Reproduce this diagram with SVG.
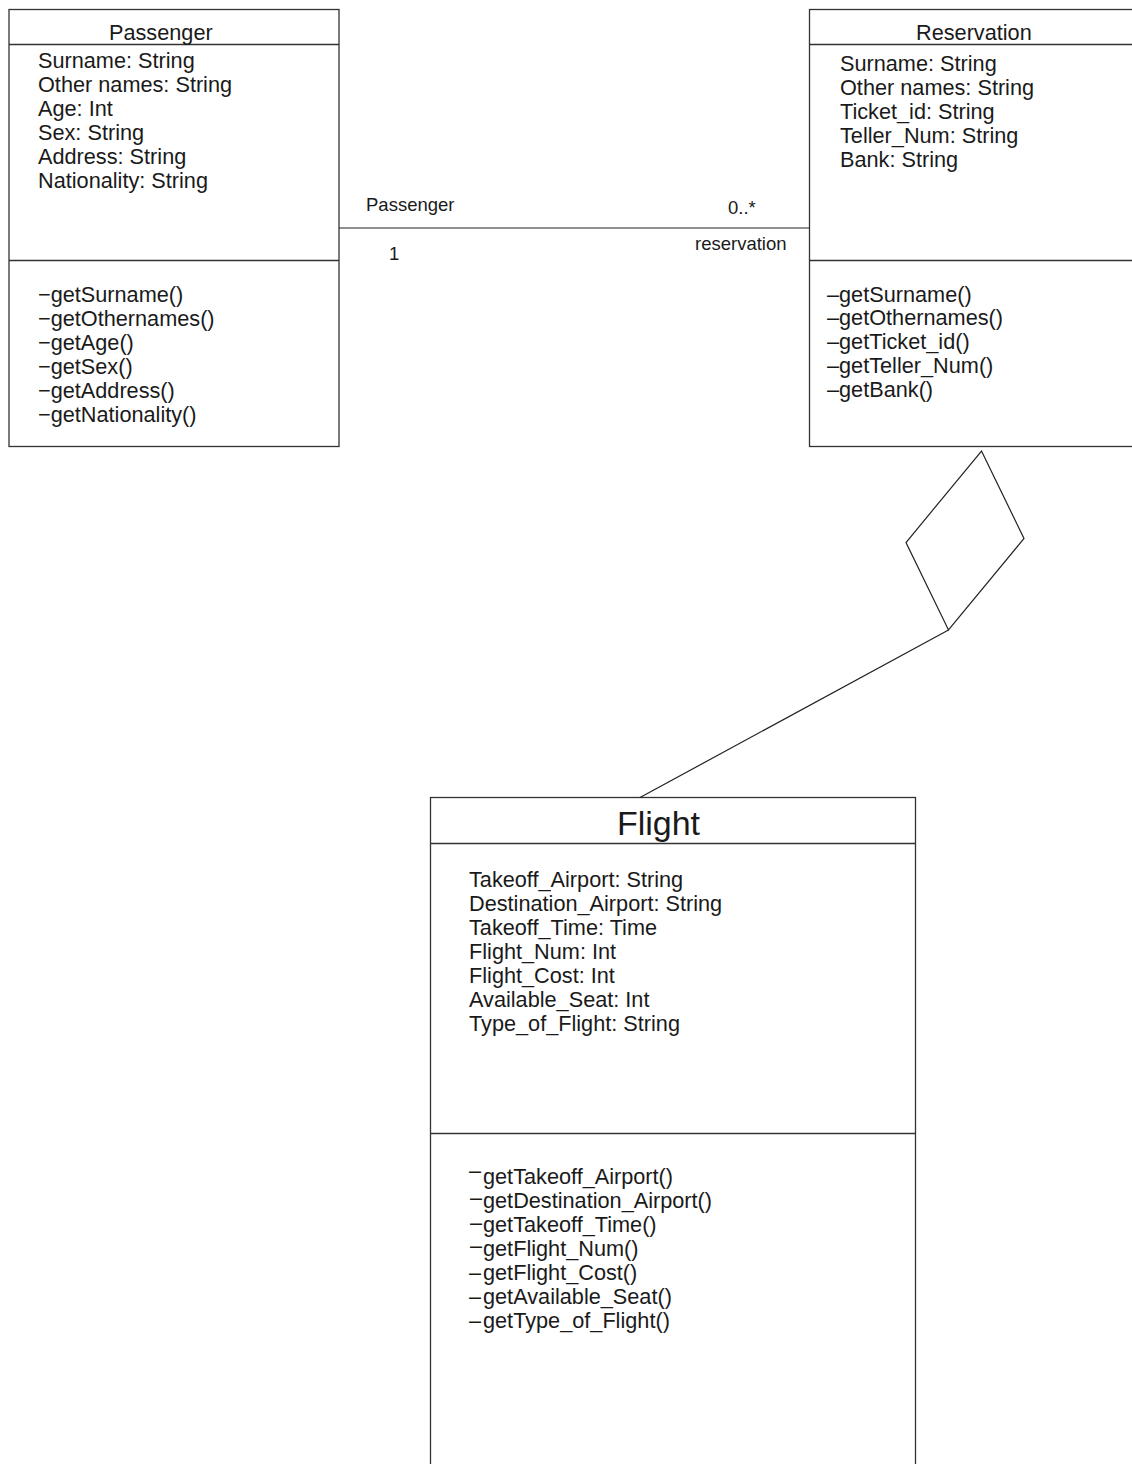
<svg xmlns="http://www.w3.org/2000/svg" width="1132" height="1464" viewBox="0 0 1132 1464">
  <style>
    .box { fill: #ffffff; stroke: #333333; stroke-width: 1.3; }
    .sep { stroke: #333333; stroke-width: 1.3; fill: none; }
    .t { font-family: "Liberation Sans", Arial, sans-serif; font-size: 21.7px; fill: #1a1a1a; }
    .lbl { font-family: "Liberation Sans", Arial, sans-serif; font-size: 18.5px; fill: #1a1a1a; }
    .title { font-family: "Liberation Sans", Arial, sans-serif; font-size: 34px; fill: #1a1a1a; }
    .conn { stroke: #222222; stroke-width: 1.2; fill: none; }
  </style>
  <rect width="1132" height="1464" fill="#ffffff"/>

  <!-- Passenger class -->
  <g id="passenger">
    <rect class="box" x="9" y="9.5" width="330" height="437"/>
    <line class="sep" x1="9" y1="44.5" x2="339" y2="44.5"/>
    <line class="sep" x1="9" y1="260.5" x2="339" y2="260.5"/>
    <text class="t" x="109" y="40">Passenger</text>
    <text class="t" x="38" y="68">Surname: String</text>
    <text class="t" x="38" y="92">Other names: String</text>
    <text class="t" x="38" y="116">Age: Int</text>
    <text class="t" x="38" y="140">Sex: String</text>
    <text class="t" x="38" y="164">Address: String</text>
    <text class="t" x="38" y="188">Nationality: String</text>
    <text class="t" x="38" y="302">−getSurname()</text>
    <text class="t" x="38" y="326">−getOthernames()</text>
    <text class="t" x="38" y="350">−getAge()</text>
    <text class="t" x="38" y="374">−getSex()</text>
    <text class="t" x="38" y="398">−getAddress()</text>
    <text class="t" x="38" y="422">−getNationality()</text>
  </g>

  <!-- Reservation class -->
  <g id="reservation">
    <rect class="box" x="809.5" y="9.5" width="340" height="437"/>
    <line class="sep" x1="809.5" y1="44.5" x2="1150" y2="44.5"/>
    <line class="sep" x1="809.5" y1="260.5" x2="1150" y2="260.5"/>
    <text class="t" x="916" y="40">Reservation</text>
    <text class="t" x="840" y="71">Surname: String</text>
    <text class="t" x="840" y="95">Other names: String</text>
    <text class="t" x="840" y="119">Ticket_id: String</text>
    <text class="t" x="840" y="143">Teller_Num: String</text>
    <text class="t" x="840" y="167">Bank: String</text>
    <text class="t" x="827" y="302">–getSurname()</text>
    <text class="t" x="827" y="325">–getOthernames()</text>
    <text class="t" x="827" y="349">–getTicket_id()</text>
    <text class="t" x="827" y="373">–getTeller_Num()</text>
    <text class="t" x="827" y="397">–getBank()</text>
  </g>

  <!-- Flight class -->
  <g id="flight">
    <rect class="box" x="430.5" y="797.5" width="485" height="700"/>
    <line class="sep" x1="430.5" y1="843.5" x2="915.5" y2="843.5"/>
    <line class="sep" x1="430.5" y1="1133.5" x2="915.5" y2="1133.5"/>
    <text class="title" x="658.5" y="835" text-anchor="middle">Flight</text>
    <text class="t" x="469" y="887">Takeoff_Airport: String</text>
    <text class="t" x="469" y="911">Destination_Airport: String</text>
    <text class="t" x="469" y="935">Takeoff_Time: Time</text>
    <text class="t" x="469" y="959">Flight_Num: Int</text>
    <text class="t" x="469" y="983">Flight_Cost: Int</text>
    <text class="t" x="469" y="1007">Available_Seat: Int</text>
    <text class="t" x="469" y="1031">Type_of_Flight: String</text>
    <!-- visibility markers sit at slightly uneven heights -->
    <text class="t" x="469" y="1184"><tspan dy="-6">–</tspan><tspan x="483" dy="6">getTakeoff_Airport()</tspan></text>
    <text class="t" x="470" y="1208"><tspan dy="-3">–</tspan><tspan x="483" dy="3">getDestination_Airport()</tspan></text>
    <text class="t" x="470" y="1232"><tspan dy="-2">–</tspan><tspan x="483" dy="2">getTakeoff_Time()</tspan></text>
    <text class="t" x="470" y="1256"><tspan dy="-3">–</tspan><tspan x="483" dy="3">getFlight_Num()</tspan></text>
    <text class="t" x="469" y="1280">–<tspan x="483">getFlight_Cost()</tspan></text>
    <text class="t" x="469" y="1304">–<tspan x="483">getAvailable_Seat()</tspan></text>
    <text class="t" x="469" y="1328">–<tspan x="483">getType_of_Flight()</tspan></text>
  </g>

  <!-- Connectors -->
  <g id="connectors">
    <!-- association Passenger - Reservation -->
    <line class="conn" x1="339" y1="228" x2="809.5" y2="228"/>
    <text class="lbl" x="366" y="211">Passenger</text>
    <text class="lbl" x="728" y="214">0..*</text>
    <text class="lbl" x="389" y="260">1</text>
    <text class="lbl" x="695" y="250">reservation</text>
    <!-- aggregation Reservation - Flight -->
    <polygon class="conn" points="981.5,451 1024,538.5 948.5,630 906,542.5"/>
    <line class="conn" x1="948.5" y1="630" x2="640" y2="797.5"/>
  </g>
</svg>
